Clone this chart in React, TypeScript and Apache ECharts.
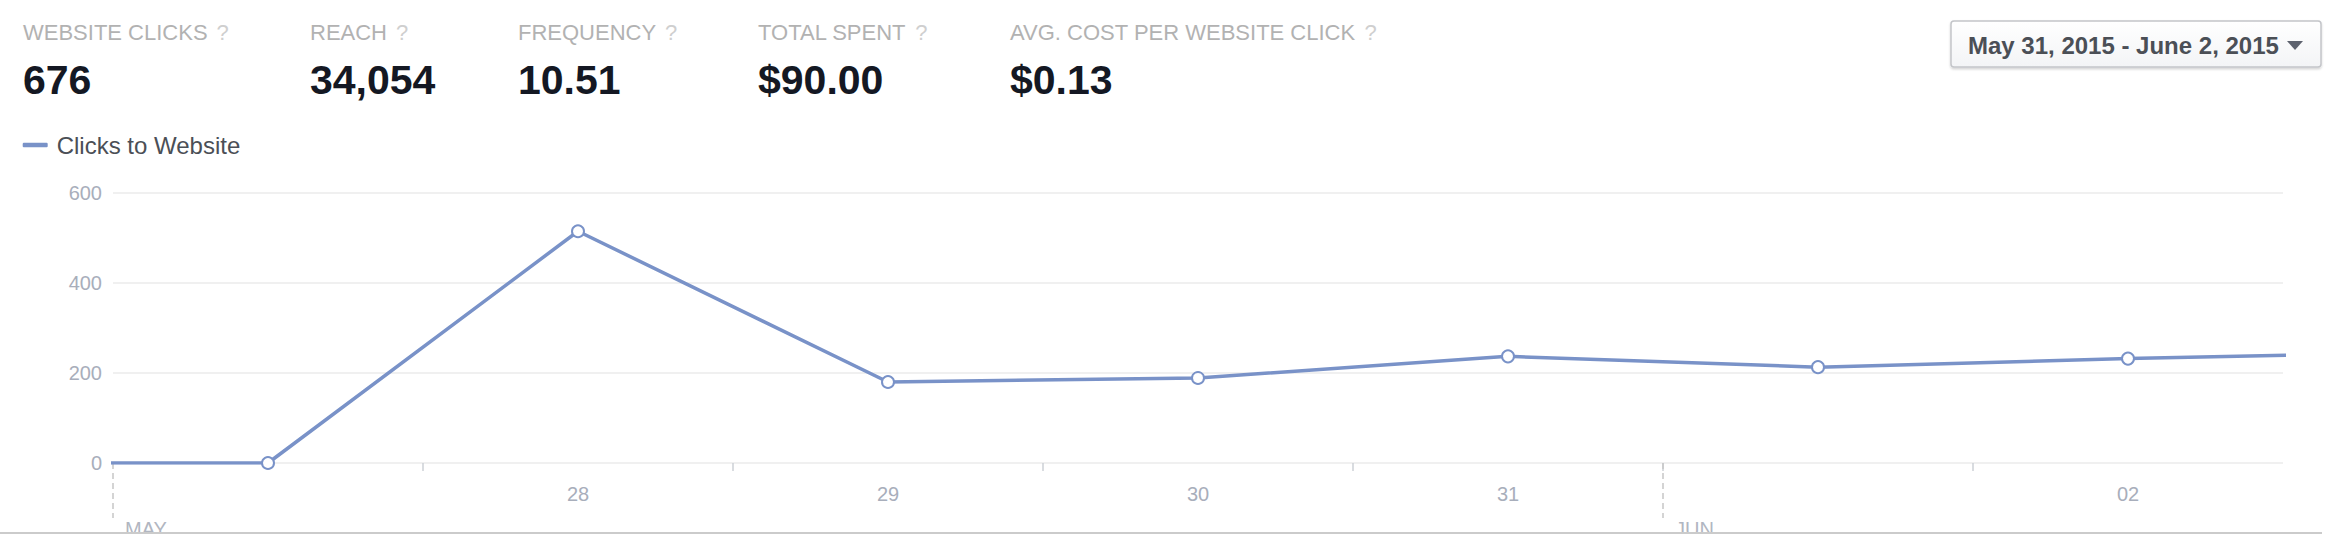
import React, { useEffect, useRef } from "react";
import * as echarts from "echarts";

// ---------- data ----------
const statLabels = ["WEBSITE CLICKS", "REACH", "FREQUENCY", "TOTAL SPENT", "AVG. COST PER WEBSITE CLICK"];
const statValues = ["676", "34,054", "10.51", "$90.00", "$0.13"];
const dateRangeLabel = "May 31, 2015 - June 2, 2015";
const seriesName = "Clicks to Website";

const days = [
  "2015-05-26",
  "2015-05-27",
  "2015-05-28",
  "2015-05-29",
  "2015-05-30",
  "2015-05-31",
  "2015-06-01",
  "2015-06-02",
  "2015-06-03",
];
const clicks = [0, 0, 515, 180, 189, 237, 213, 232, 247];

const axisStart = "2015-05-27";
const axisEnd = "2015-06-03";
const dayTickDates = ["2015-05-28", "2015-05-29", "2015-05-30", "2015-05-31", "2015-06-01", "2015-06-02"];
const dayLabelDates = ["2015-05-28", "2015-05-29", "2015-05-30", "2015-05-31", "2015-06-02"];
const monthStartDates = ["2015-05-27", "2015-06-01"];
const monthLabels = ["MAY", "JUN"];
const yMin = 0;
const yMax = 600;
const yStep = 200;

// ---------- layout / style ----------
const W = 2334;
const H = 542;
const FONT = '"Liberation Sans", Arial, Helvetica, sans-serif';
const LINE_COLOR = "#7992c8";
const AXIS_TEXT = "#a8aebb";
const statX = [23, 310, 518, 758, 1010];
const HOUR = 3600 * 1000;

const midnight = (d: string) => Date.parse(d + "T00:00:00Z");
const noon = (d: string) => midnight(d) + 12 * HOUR;
const dd = (v: number) => String(new Date(v).getUTCDate()).padStart(2, "0");

export default function App() {
  const ref = useRef<HTMLDivElement>(null);

  useEffect(() => {
    if (!ref.current) return;
    const chart = echarts.init(ref.current, null, { renderer: "svg", width: W, height: H });

    const headerGraphics: any[] = [];
    statLabels.forEach((label, i) => {
      headerGraphics.push({
        type: "text",
        x: statX[i],
        y: 32.5,
        style: {
          text: `{a|${label}}{q|?}`,
          verticalAlign: "middle",
          fill: "#b2b2b2",
          rich: {
            a: { fontSize: 22, fontFamily: FONT, fill: "#b2b2b2" },
            q: { fontSize: 22, fontFamily: FONT, fill: "#cfcfcf", padding: [0, 0, 0, 9] },
          },
        },
      });
      headerGraphics.push({
        type: "text",
        x: statX[i],
        y: 79.5,
        style: {
          text: statValues[i],
          fontSize: 41,
          fontWeight: "bold",
          fontFamily: FONT,
          fill: "#141823",
          verticalAlign: "middle",
        },
      });
    });

    const buttonGraphics: any[] = [
      {
        type: "rect",
        shape: { x: 1951, y: 21, width: 370, height: 46, r: 3 },
        style: {
          fill: new echarts.graphic.LinearGradient(0, 0, 0, 1, [
            { offset: 0, color: "#ffffff" },
            { offset: 1, color: "#f3f4f6" },
          ]),
          stroke: "#c3c5c9",
          lineWidth: 1.5,
          shadowBlur: 2,
          shadowOffsetY: 1.5,
          shadowColor: "rgba(0,0,0,0.18)",
        },
      },
      {
        type: "text",
        x: 1968,
        y: 45,
        style: {
          text: dateRangeLabel,
          fontSize: 24,
          fontWeight: "bold",
          fontFamily: FONT,
          fill: "#4b4f56",
          verticalAlign: "middle",
        },
      },
      {
        type: "polygon",
        shape: { points: [[2287, 41], [2303, 41], [2295, 50]] },
        style: { fill: "#5d626e" },
      },
    ];

    const bottomGraphics: any[] = [
      { type: "rect", z: 100, shape: { x: 0, y: 534, width: W, height: 8 }, style: { fill: "#ffffff" } },
      { type: "rect", z: 101, shape: { x: 0, y: 532, width: 2322, height: 2 }, style: { fill: "#cbcbcb" } },
    ];

    const monthTs = monthStartDates.map(midnight);

    chart.setOption({
      animation: false,
      backgroundColor: "#ffffff",
      textStyle: { fontFamily: FONT },
      legend: {
        left: 22.7,
        top: 133,
        padding: 0,
        icon: "roundRect",
        itemWidth: 25,
        itemHeight: 4.5,
        data: [{ name: seriesName, itemStyle: { color: LINE_COLOR, borderWidth: 0 } }],
        textStyle: { fontSize: 24, color: "#4b4f56", fontFamily: FONT, padding: [0, 0, 0, 4] },
      },
      grid: { left: 113, right: 51, top: 193, bottom: 79 },
      xAxis: [
        {
          type: "value",
          min: midnight(axisStart),
          max: midnight(axisEnd),
          position: "bottom",
          axisLine: { show: false },
          splitLine: { show: false },
          axisTick: {
            show: true,
            customValues: dayTickDates.map(midnight),
            length: 8,
            lineStyle: { color: "#cdd0d6", width: 1.5 },
          },
          axisLabel: {
            customValues: dayLabelDates.map(noon),
            formatter: (v: number) => dd(v),
            fontSize: 20,
            color: AXIS_TEXT,
            fontFamily: FONT,
            margin: 21,
          },
        },
        {
          type: "value",
          min: midnight(axisStart),
          max: midnight(axisEnd),
          position: "bottom",
          axisLine: { show: false },
          splitLine: { show: false },
          axisTick: {
            show: true,
            customValues: monthTs,
            length: 55,
            lineStyle: { color: "#c6c6c6", width: 1.5, type: [6, 4] },
          },
          axisLabel: {
            customValues: monthTs,
            formatter: (v: number) => {
              const i = monthTs.indexOf(v);
              return i >= 0 ? monthLabels[i] : "";
            },
            align: "left",
            padding: [0, 0, 0, 12],
            margin: 56,
            fontSize: 20,
            color: "#b1b6c1",
            fontFamily: FONT,
          },
        },
      ],
      yAxis: {
        type: "value",
        min: yMin,
        max: yMax,
        interval: yStep,
        axisLine: { show: false },
        axisTick: { show: false },
        axisLabel: { fontSize: 20, color: AXIS_TEXT, fontFamily: FONT, margin: 11 },
        splitLine: { lineStyle: { color: "#f0f0f0", width: 2 } },
      },
      series: [
        {
          type: "line",
          name: seriesName,
          xAxisIndex: 0,
          data: days.map((d, i) => [noon(d), clicks[i]]),
          symbol: "emptyCircle",
          symbolSize: 12,
          showAllSymbol: true,
          clip: true,
          lineStyle: { color: LINE_COLOR, width: 3.5 },
          itemStyle: { color: LINE_COLOR, borderWidth: 3.5 },
          z: 3,
        },
      ],
      graphic: [...headerGraphics, ...buttonGraphics, ...bottomGraphics],
    });

    return () => {
      chart.dispose();
    };
  }, []);

  return (
    <div
      ref={ref}
      style={{ position: "absolute", left: 0, top: 0, width: W, height: H, background: "#ffffff" }}
    />
  );
}
